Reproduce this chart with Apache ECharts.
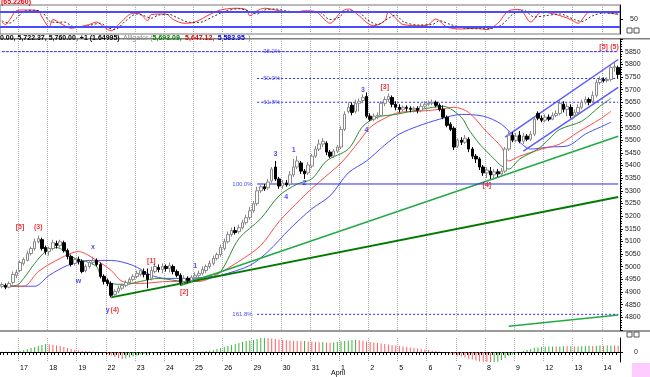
<!DOCTYPE html>
<html>
<head>
<meta charset="utf-8">
<script src="https://cdn.jsdelivr.net/npm/echarts@6/dist/echarts.min.js"></script>
<style>
html, body { margin: 0; padding: 0; background: #fff; }
#chart { width: 650px; height: 377px; }
</style>
</head>
<body>
<div id="chart"></div>
<script>
// trading days shown on the x axis and how many hourly bars each one has
var days = ['16', '17', '18', '19', '22', '23', '24', '25', '26', '29', '30', '31', '1', '2', '5', '6', '7', '8', '9', '12', '13', '14'];
var dayBars = [5, 8, 8, 8, 8, 8, 8, 8, 8, 8, 8, 8, 8, 8, 8, 8, 8, 8, 8, 8, 8, 5];

// price bars
var opens = [4923,4926,4919,4938,4966,4985,5013,5025,5052,5072,5099,5107,5076,5060,5072,5092,5084,5095,5064,5040,
  5013,5029,5021,4985,5001,5017,5025,5009,4962,4946,4934,4891,4903,4915,4926,4938,4950,4962,4970,4981,
  4970,4954,4981,4997,4989,5001,4993,5001,4981,4966,4942,4954,4946,4958,4966,4974,4985,5001,5013,5033,
  5048,5072,5099,5127,5143,5139,5154,5174,5194,5221,5249,5300,5316,5312,5339,5394,5347,5319,5331,5327,
  5363,5394,5410,5378,5371,5398,5437,5465,5485,5488,5453,5437,5457,5473,5543,5614,5638,5614,5646,5657,
  5673,5595,5583,5595,5598,5646,5661,5669,5642,5630,5622,5630,5626,5622,5626,5618,5634,5642,5646,5650,
  5638,5622,5591,5563,5547,5477,5500,5492,5504,5465,5437,5426,5394,5371,5378,5363,5375,5367,5378,5465,
  5520,5500,5520,5496,5516,5504,5524,5606,5587,5579,5591,5583,5598,5606,5642,5622,5630,5598,5610,5630,
  5650,5661,5654,5677,5728,5740,5736,5740,5787,5787];
var closes = [4930,4919,4934,4970,4978,5017,5029,5052,5072,5099,5111,5072,5060,5072,5095,5084,5099,5064,5040,5009,
  5029,5021,4981,5001,5017,5025,5009,4962,4942,4934,4887,4903,4915,4926,4938,4950,4962,4974,4985,4970,
  4950,4985,5001,4989,5001,4993,5005,4981,4966,4938,4954,4946,4958,4966,4974,4989,5001,5013,5033,5048,
  5076,5099,5127,5143,5135,5154,5174,5194,5221,5249,5300,5316,5308,5335,5386,5347,5319,5331,5323,5363,
  5394,5418,5378,5367,5402,5437,5465,5485,5496,5453,5437,5457,5473,5543,5602,5630,5610,5646,5654,5669,
  5595,5583,5595,5598,5646,5661,5673,5642,5630,5622,5630,5626,5622,5626,5618,5634,5642,5646,5650,5638,
  5622,5591,5559,5543,5473,5500,5492,5508,5465,5437,5426,5394,5371,5382,5363,5375,5367,5378,5465,5520,
  5500,5516,5496,5516,5504,5524,5583,5587,5579,5591,5583,5598,5606,5646,5622,5634,5598,5610,5630,5650,
  5661,5650,5677,5728,5740,5736,5740,5787,5791,5760];
var lows = [4915,4911,4915,4930,4954,4978,5005,5021,5044,5064,5092,5064,5048,5044,5064,5072,5076,5056,5029,5001,
  5005,5009,4974,4978,4993,5009,5001,4954,4930,4923,4879,4883,4895,4907,4919,4930,4942,4954,4962,4958,
  4915,4946,4974,4978,4974,4981,4978,4970,4958,4926,4930,4934,4938,4950,4958,4966,4974,4993,5005,5025,
  5040,5064,5092,5119,5127,5131,5147,5166,5186,5213,5241,5292,5300,5304,5331,5339,5308,5308,5316,5319,
  5355,5386,5367,5347,5363,5390,5430,5457,5473,5441,5430,5430,5449,5465,5536,5606,5598,5606,5614,5646,
  5587,5575,5575,5583,5591,5634,5650,5630,5618,5610,5614,5614,5610,5610,5606,5610,5626,5634,5638,5630,
  5614,5583,5551,5536,5461,5469,5481,5485,5453,5426,5410,5382,5359,5350,5347,5343,5355,5355,5371,5457,
  5492,5492,5488,5485,5496,5496,5516,5579,5571,5571,5575,5579,5591,5598,5610,5595,5587,5587,5598,5622,
  5642,5638,5646,5669,5720,5728,5728,5732,5771,5744];
var highs = [4938,4934,4942,4981,4989,5025,5036,5064,5080,5111,5123,5115,5084,5080,5107,5103,5107,5103,5072,5048,
  5036,5040,5029,5009,5025,5040,5033,5017,4970,4954,4942,4911,4926,4934,4946,4958,4970,4985,4993,4993,
  4993,5001,5013,5009,5013,5009,5017,5009,4989,4974,4966,4962,4966,4978,4985,5001,5009,5025,5044,5056,
  5088,5111,5139,5154,5158,5166,5186,5206,5237,5260,5316,5323,5327,5347,5394,5418,5355,5343,5343,5378,
  5426,5437,5418,5386,5414,5445,5477,5504,5508,5496,5461,5465,5481,5555,5614,5650,5650,5661,5665,5681,
  5689,5606,5606,5610,5654,5673,5685,5677,5654,5642,5638,5638,5634,5634,5634,5646,5654,5657,5661,5657,
  5646,5638,5598,5571,5555,5508,5512,5520,5512,5473,5445,5433,5402,5394,5394,5386,5386,5390,5473,5536,
  5532,5528,5536,5528,5524,5536,5591,5614,5598,5602,5602,5610,5618,5657,5654,5646,5642,5622,5642,5661,
  5673,5669,5693,5740,5752,5748,5748,5799,5807,5795];

// alligator lines: [bar, price]
var jaw = [[0,4923],[9,4923],[13,4966],[18,5005],[24,5025],[30,5025],[36,5005],[41,4966],[45,4954],[51,4954],
  [58,4962],[60,4966],[68,5005],[73,5060],[79,5150],[85,5229],[90,5280],[95,5371],[100,5418],[105,5481],
  [109,5524],[114,5555],[120,5583],[126,5602],[132,5595],[137,5563],[142,5492],[145,5465],[150,5473],
  [155,5477],[160,5524],[164,5551],[167,5571]];
var teeth = [[0,4923],[6,4923],[10,4981],[16,5033],[21,5060],[26,5025],[30,4985],[33,4942],[38,4934],
  [46,4942],[54,4942],[57,4954],[65,5021],[71,5084],[76,5178],[82,5268],[87,5335],[93,5410],[98,5496],
  [101,5551],[105,5587],[109,5610],[114,5614],[120,5622],[124,5630],[128,5610],[133,5532],[137,5473],
  [139,5418],[142,5437],[148,5465],[153,5485],[158,5532],[164,5583],[167,5614]];
var lips = [[0,4923],[4,4926],[6,4954],[9,5013],[12,5060],[15,5076],[17,5064],[20,5033],[23,5021],[26,5001],
  [27,4970],[30,4934],[34,4930],[38,4942],[43,4954],[50,4942],[54,4954],[57,4966],[60,4981],[65,5111],
  [71,5190],[76,5280],[81,5327],[85,5347],[89,5418],[95,5465],[99,5555],[103,5591],[108,5602],[115,5622],
  [121,5634],[126,5591],[128,5543],[131,5485],[135,5426],[137,5398],[139,5386],[142,5426],[147,5465],
  [150,5504],[153,5543],[159,5575],[164,5634],[167,5665]];

// stochastic (top panel): [bar, value]
var stochK = [[0,40],[1,30],[2,45],[4,85],[6,88],[10,85],[11,60],[13,20],[14,50],[16,35],[19,15],[21,20],
  [24,30],[26,40],[28,20],[30,5],[32,30],[36,75],[38,72],[40,45],[41,70],[45,72],[47,50],[50,35],[53,40],
  [57,70],[60,88],[64,95],[67,90],[68,65],[70,85],[72,95],[75,88],[78,80],[80,78],[83,85],[86,82],[90,35],
  [93,80],[95,92],[98,65],[100,38],[102,25],[105,45],[106,80],[108,55],[110,30],[115,25],[117,30],[119,52],
  [122,20],[126,12],[130,15],[133,10],[136,35],[139,85],[142,90],[145,40],[148,80],[152,70],[156,50],
  [158,35],[161,78],[165,78],[169,70]];
var stochD = [[0,45],[2,35],[4,55],[6,82],[9,87],[11,80],[13,45],[15,38],[17,40],[20,20],[23,22],[25,30],
  [27,35],[29,18],[31,10],[34,45],[37,72],[39,65],[41,55],[43,68],[46,70],[48,58],[51,40],[54,38],[58,62],
  [61,82],[65,93],[68,82],[70,72],[72,88],[75,92],[78,84],[81,80],[84,82],[87,80],[90,50],[92,55],[95,85],
  [98,78],[100,52],[103,30],[106,55],[108,68],[110,42],[114,28],[118,30],[120,45],[123,30],[127,15],
  [131,13],[134,14],[137,28],[140,70],[143,88],[146,60],[149,65],[153,72],[157,50],[159,42],[162,65],
  [165,76],[169,72]];

// oscillator histogram (bottom panel), one value per bar
var ao = [2,2,3,3,4, 10,20,30,40,50,60,70,80, 78,72,66,60,50,40,30,20, 15,12,10,8,5,3,0,-5,
  -20,-35,-50,-60,-70,-65,-55,-45, -35,-25,-18,-12,-8,-5,-3,-2, 0,2,3,2,0,-2,-3,-2,
  0,2,5,10,15,20,30,40, 50,60,70,80,90,100,110,115, 120,130,140,140,138,135,130,125,
  120,118,115,112,110,108,110,105, 102,100,98,100,95,92,95,100, 105,110,115,120,122,118,112,105,
  100,95,90,85,80,75,70,65, 60,55,50,45,40,35,30,25, 20,15,10,5,0,-5,-15,-25,
  -35,-45,-55,-65,-75,-85,-95,-105, -110,-115,-112,-100,-80,-60,-40,-25, -10,0,10,20,30,40,45,50,
  52,55,55,54,56,58,57,58, 55,56,58,60,62,60,62,64, 62,64,66,65,63];

// fibonacci levels
var fibNames = ['38.2%', '50.0%', '61.8%', '100.0%', '161.8%'];
var fibValues = [5850, 5744, 5650, 5327, 4812];
var fibStart = [0, 70, 70, 70, 70];
var fibLabelBar = [74, 74, 74, 66, 66];

// trend lines and channel: [bar, price]
var trendA = [[49, 4926], [169, 5516]];
var trendB = [[30, 4879], [169, 5276]];
var trendC = [[139, 4765], [169, 4809]];
var channelUp = [[138, 5512], [169, 5819]];
var channelDn = [[143, 5457], [169, 5709]];

// wave labels
var waveText = ['[5]', '(3)', 'w', 'x', 'y', '(4)', '[1]', '[2]', '1', '3', '4', '1', '2', '3', '4', '[3]', '[4]', '[5]', '(5)'];
var waveBar = [5, 10, 21, 25, 29, 31, 41, 50, 53, 75, 78, 80, 83, 99, 100, 105, 133, 165, 168];
var wavePrice = [5158, 5158, 4942, 5076, 4828, 4828, 5021, 4899, 5001, 5445, 5276, 5461, 5331, 5697, 5540, 5712, 5323, 5870, 5870];
var waveRed = [1, 1, 0, 0, 0, 1, 1, 1, 0, 0, 0, 0, 0, 0, 0, 1, 1, 1, 1];

var categories = [];
var dayStart = {};
days.forEach(function(d, k) {
    dayStart[categories.length] = d;
    for (var b = 0; b < dayBars[k]; b++) categories.push(d + ':' + b);
});
function isDayStart(i) { return i > 0 && dayStart[i] !== undefined; }

var candles = opens.map(function(o, i) { return [o, closes[i], lows[i], highs[i]]; });
var aoData = ao.map(function(v, i) {
    var falling = i > 0 && v < ao[i - 1];
    return { value: v, itemStyle: { color: falling ? '#ff6060' : '#3cb43c' } };
});

var labelData = [];
waveText.forEach(function(t, i) {
    labelData.push({
        name: t, value: [waveBar[i], wavePrice[i]],
        label: { color: waveRed[i] ? '#ee0000' : '#1a1aee', fontSize: 7, fontWeight: 'bold' }
    });
});
fibNames.forEach(function(t, i) {
    labelData.push({
        name: t, value: [fibLabelBar[i], fibValues[i]],
        label: { color: '#2222ee', fontSize: 6 }
    });
});

function xAxisFor(grid, showLabels) {
    return {
        type: 'category', gridIndex: grid, data: categories, boundaryGap: true,
        axisLine: { show: showLabels, lineStyle: { color: '#000' } },
        axisTick: { show: showLabels, interval: 0, length: 3, lineStyle: { color: '#000' } },
        axisLabel: {
            show: showLabels, interval: function(i) { return isDayStart(i); },
            formatter: function(v, i) { return dayStart[i] || ''; },
            fontSize: 7, color: '#000', margin: 3, align: 'left'
        },
        splitLine: {
            show: true, interval: function(i) { return isDayStart(i); },
            lineStyle: { color: '#aaa', type: 'dotted', width: 1 }
        }
    };
}

function lineSeries(data, color, width, type, smooth) {
    return {
        type: 'line', xAxisIndex: 1, yAxisIndex: 1, data: data, symbol: 'none', smooth: smooth || false,
        lineStyle: { color: color, width: width, type: type || 'solid' }, silent: true
    };
}

var series = [
    {
        type: 'line', xAxisIndex: 0, yAxisIndex: 0, data: stochK, symbol: 'none', smooth: 0.3,
        lineStyle: { color: '#ff3030', width: 1 },
        markLine: {
            silent: true, symbol: ['none', 'none'], label: { show: false },
            lineStyle: { color: '#4a4aff', width: 2, type: 'solid' },
            data: [{ yAxis: 80 }, { yAxis: 20 }]
        }
    },
    {
        type: 'line', xAxisIndex: 0, yAxisIndex: 0, data: stochD, symbol: 'none', smooth: 0.3,
        lineStyle: { color: '#333', width: 1, type: [2, 2] }
    },
    {
        type: 'candlestick', xAxisIndex: 1, yAxisIndex: 1, data: candles, barWidth: 3,
        itemStyle: { color: '#ffffff', color0: '#000', borderColor: '#8a8a8a', borderColor0: '#000', borderWidth: 1 },
        z: 5
    },
    lineSeries(jaw, '#4a4aff', 1, 'solid', 0.3),
    lineSeries(teeth, '#ff4a4a', 1, 'solid', 0.3),
    lineSeries(lips, '#2e8b2e', 1, 'solid', 0.3),
    lineSeries(trendA, '#22aa44', 1.5),
    lineSeries(trendB, '#007a00', 2),
    lineSeries(trendC, '#22aa44', 1.5),
    lineSeries(channelUp, '#5a5aff', 1.5),
    lineSeries(channelDn, '#5a5aff', 1.5)
];
fibValues.forEach(function(v, i) {
    series.push(lineSeries([[fibStart[i], v], [169, v]], '#2a2aee', 1, i === 3 ? 'solid' : (i === 0 ? [3, 1] : [2, 2])));
});
series.push({
    type: 'scatter', xAxisIndex: 1, yAxisIndex: 1, data: labelData, symbolSize: 1,
    itemStyle: { color: 'rgba(0,0,0,0)' }, z: 10, silent: true,
    label: { show: true, position: 'inside', formatter: '{b}', fontFamily: 'Liberation Sans' }
});
series.push({
    type: 'bar', xAxisIndex: 2, yAxisIndex: 2, data: aoData, barWidth: 1
});

var chart = echarts.init(document.getElementById('chart'));
chart.setOption({
    animation: false,
    backgroundColor: '#fff',
    textStyle: { fontFamily: 'Liberation Sans' },
    grid: [
        { left: 0, width: 620, top: 5, height: 29, show: true, borderColor: '#777', borderWidth: 1 },
        { left: 0, width: 620, top: 39, height: 291 },
        { left: 0, width: 620, top: 338, height: 24 }
    ],
    xAxis: [xAxisFor(0, false), xAxisFor(1, false), xAxisFor(2, true)],
    yAxis: [
        {
            type: 'value', gridIndex: 0, position: 'right', min: -8, max: 108,
            axisLine: { show: true, lineStyle: { color: '#000' } },
            axisTick: { show: true, customValues: [50], length: 3 },
            axisLabel: { customValues: [50], fontSize: 7, color: '#222', margin: 10 },
            splitLine: { show: false }
        },
        {
            type: 'value', gridIndex: 1, position: 'right', min: 4750, max: 5900, interval: 50,
            axisLine: { show: true, lineStyle: { color: '#000' } },
            axisTick: { show: true, length: 3, lineStyle: { color: '#000' } },
            minorTick: { show: true, splitNumber: 5, length: 2, lineStyle: { color: '#000' } },
            axisLabel: {
                fontSize: 7, color: '#222', margin: 5,
                formatter: function(v) { return (v < 4800 || v > 5850) ? '' : String(v); }
            },
            splitLine: { show: false }
        },
        {
            type: 'value', gridIndex: 2, position: 'right', min: -100, max: 140,
            axisLine: { show: true, lineStyle: { color: '#000' } },
            axisTick: { show: true, customValues: [0], length: 3 },
            axisLabel: { customValues: [0], fontSize: 7, color: '#222', margin: 14 },
            splitLine: { show: false }
        }
    ],
    series: series,
    graphic: [
        { type: 'rect', shape: { x: 0, y: 38, width: 650, height: 1.5 }, style: { fill: '#808080' }, silent: true },
        { type: 'rect', shape: { x: 0, y: 330, width: 650, height: 2 }, style: { fill: '#999' }, silent: true },
        { type: 'rect', shape: { x: 632, y: 363, width: 18, height: 14 }, style: { fill: '#ffccff' }, silent: true },
        { type: 'rect', shape: { x: 627, y: 28, width: 5, height: 5 }, style: { fill: '#fff', stroke: '#555' }, silent: true },
        { type: 'rect', shape: { x: 634, y: 28, width: 5, height: 5 }, style: { fill: '#fff', stroke: '#555' }, silent: true },
        { type: 'rect', shape: { x: 627, y: 332, width: 5, height: 5 }, style: { fill: '#fff', stroke: '#555' }, silent: true },
        { type: 'rect', shape: { x: 634, y: 332, width: 5, height: 5 }, style: { fill: '#fff', stroke: '#555' }, silent: true },
        {
            type: 'text', x: 1, y: -1, silent: true,
            style: { text: '(65.2260)', fill: '#ee0000', font: 'bold 7px "Liberation Sans"' }
        },
        {
            type: 'text', x: 0, y: 32, silent: true,
            style: {
                text: '{a|0.00, 5,722.37, 5,760.00, +1 (1.64995)} {b|Alligator (}{g|5,693.09,} {r|5,647.12,} {u|5,583.95} {b|)}',
                rich: {
                    a: { fontSize: 7, fontWeight: 'bold', fill: '#000', fontFamily: 'Liberation Sans' },
                    b: { fontSize: 7, fill: '#888', fontFamily: 'Liberation Sans' },
                    g: { fontSize: 7, fontWeight: 'bold', fill: '#008000', fontFamily: 'Liberation Sans' },
                    r: { fontSize: 7, fontWeight: 'bold', fill: '#e00000', fontFamily: 'Liberation Sans' },
                    u: { fontSize: 7, fontWeight: 'bold', fill: '#0000dd', fontFamily: 'Liberation Sans' }
                }
            }
        },
        {
            type: 'text', x: 331, y: 370, silent: true,
            style: { text: 'April', fill: '#000', font: '7px "Liberation Sans"' }
        }
    ]
});
</script>
</body>
</html>
